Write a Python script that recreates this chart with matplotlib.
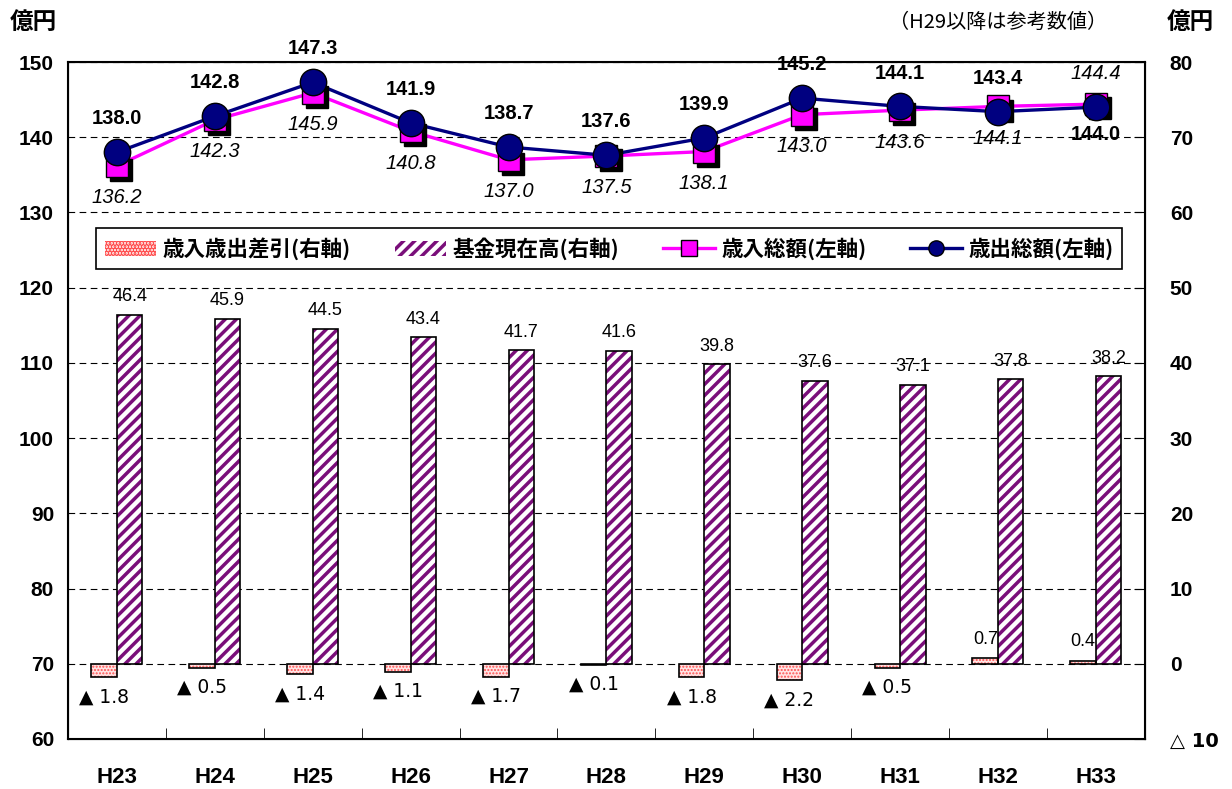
import matplotlib
matplotlib.use('Agg')
import matplotlib.pyplot as plt
from matplotlib.patches import Patch
from matplotlib.lines import Line2D
import matplotlib.transforms as mtransforms

plt.rcParams['font.family'] = ['Liberation Sans', 'Noto Sans CJK JP', 'DejaVu Sans']
plt.rcParams['hatch.linewidth'] = 2.5

# データ
years = ['H23', 'H24', 'H25', 'H26', 'H27', 'H28', 'H29', 'H30', 'H31', 'H32', 'H33']
revenue = [136.2, 142.3, 145.9, 140.8, 137.0, 137.5, 138.1, 143.0, 143.6, 144.1, 144.4]   # 歳入総額(左軸)
expense = [138.0, 142.8, 147.3, 141.9, 138.7, 137.6, 139.9, 145.2, 144.1, 143.4, 144.0]   # 歳出総額(左軸)
balance = [-1.8, -0.5, -1.4, -1.1, -1.7, -0.1, -1.8, -2.2, -0.5, 0.7, 0.4]                # 歳入歳出差引(右軸)
fund = [46.4, 45.9, 44.5, 43.4, 41.7, 41.6, 39.8, 37.6, 37.1, 37.8, 38.2]                 # 基金現在高(右軸)

left_ticks = [60, 70, 80, 90, 100, 110, 120, 130, 140, 150]
right_ticks = [-10, 0, 10, 20, 30, 40, 50, 60, 70, 80]
right_labels = ['△ 10', '0', '10', '20', '30', '40', '50', '60', '70', '80']

MAG = '#FF00FF'
NAVY = '#000080'
PURPLE = '#7A0F7A'
PINK_FACE = '#FFE4E4'
PINK_DOT = '#FF5050'
JP = ['Noto Sans CJK JP', 'DejaVu Sans']

x = list(range(len(years)))
w = 0.26

fig = plt.figure(figsize=(12.32, 7.89), dpi=100)
ax = fig.add_axes([0.0552, 0.0634, 0.874, 0.858])
ax2 = ax.twinx()
ax.set_zorder(ax2.get_zorder() + 1)
ax.patch.set_visible(False)

# --- 棒グラフ(右軸) ---
xb = [i - w / 2 for i in x]
xf = [i + w / 2 for i in x]
with plt.rc_context({'hatch.linewidth': 1.0}):
    pink = ax2.bar(xb, balance, w, color=PINK_FACE, edgecolor=PINK_DOT, hatch='.....', linewidth=0, zorder=2)
for p in pink:
    if hasattr(p, 'set_hatch_linewidth'):
        p.set_hatch_linewidth(1.0)
ax2.bar(xb, balance, w, fill=False, edgecolor='black', linewidth=1.2, zorder=3)
ax2.bar(xf, fund, w, color='white', edgecolor=PURPLE, hatch='///', linewidth=0, zorder=2)
ax2.bar(xf, fund, w, fill=False, edgecolor='black', linewidth=1.2, zorder=3)

for xi, v in zip(xb, balance):
    if v < 0:
        ax2.annotate(f'▲ {abs(v):.1f}', (xi, v), xytext=(0, -14), textcoords='offset points',
                     ha='center', va='center', fontsize=13.5, family='DejaVu Sans')
    else:
        ax2.annotate(f'{v:.1f}', (xi, v), xytext=(0, 14), textcoords='offset points',
                     ha='center', va='center', fontsize=13)
for xi, v in zip(xf, fund):
    ax2.annotate(f'{v:.1f}', (xi, v), xytext=(0, 13), textcoords='offset points',
                 ha='center', va='center', fontsize=13)

ax2.set_ylim(-10, 80)
ax2.set_yticks(right_ticks)
ax2.set_yticklabels(right_labels, fontsize=15, fontweight='bold')
ax2.get_yticklabels()[0].set_family('DejaVu Sans')
ax2.get_yticklabels()[0].set_fontsize(14)
ax2.tick_params(axis='y', direction='in', length=8, pad=18)
ax2.yaxis.grid(True, linestyle=(0, (6, 4)), color='black', linewidth=0.8)
ax2.set_axisbelow(True)

# --- 折れ線(左軸) ---
shadow = mtransforms.offset_copy(ax.transData, fig=fig, x=3, y=-3, units='points')
ax.plot(x, revenue, color=MAG, linewidth=2.4, zorder=3)
ax.plot(x, expense, color=NAVY, linewidth=2.4, zorder=3)
ax.plot(x, revenue, 's', color='black', markersize=16, transform=shadow, zorder=4)
ax.plot(x, revenue, 's', color=MAG, markeredgecolor='black', markeredgewidth=1, markersize=16, zorder=5)
ax.plot(x, expense, 'o', color=NAVY, markeredgecolor='black', markeredgewidth=1, markersize=19, zorder=6)

n = len(years)
for i in x:
    dy_e = -20 if i == n - 1 else 24
    ax.annotate(f'{expense[i]:.1f}', (i, expense[i]), xytext=(0, dy_e), textcoords='offset points',
                ha='center', va='center', fontsize=14.5, fontweight='bold', zorder=7)
    dy_r = 22 if i == n - 1 else -23
    ax.annotate(f'{revenue[i]:.1f}', (i, revenue[i]), xytext=(0, dy_r), textcoords='offset points',
                ha='center', va='center', fontsize=14.5, fontstyle='italic', zorder=7)

ax.set_xlim(-0.5, n - 0.5)
ax.set_ylim(60, 150)
ax.set_yticks(left_ticks)
ax.set_yticklabels([str(t) for t in left_ticks], fontsize=15, fontweight='bold')
ax.tick_params(axis='y', length=0, pad=10)
ax.set_xticks(x)
ax.set_xticklabels(years, fontsize=16, fontweight='bold')
ax.tick_params(axis='x', length=0, pad=20)
ax.set_xticks([i + 0.5 for i in x[:-1]], minor=True)
ax.tick_params(axis='x', which='minor', direction='in', length=8)
for sp in ax.spines.values():
    sp.set_linewidth(1.5)

# --- 凡例 ---
handles = [
    Patch(facecolor=PINK_FACE, edgecolor=PINK_DOT, hatch='.....', linewidth=0),
    Patch(facecolor='white', edgecolor=PURPLE, hatch='///', linewidth=0),
    Line2D([], [], color=MAG, linewidth=2.4, marker='s', markersize=11,
           markerfacecolor=MAG, markeredgecolor='black'),
    Line2D([], [], color=NAVY, linewidth=2.4, marker='o', markersize=11,
           markerfacecolor=NAVY, markeredgecolor='black'),
]
labels = ['歳入歳出差引(右軸)', '基金現在高(右軸)', '歳入総額(左軸)', '歳出総額(左軸)']
leg = ax.legend(handles, labels, loc='center', ncol=4, mode='expand',
                bbox_to_anchor=(0.026, 0.685, 0.953, 0.079), frameon=True, fancybox=False,
                framealpha=1, edgecolor='black', handlelength=2.4, handletextpad=0.3,
                borderaxespad=0, prop={'family': JP, 'weight': 'bold', 'size': 15.5})
leg.get_frame().set_linewidth(1.2)

# --- 単位・注記 ---
fig.text(0.008, 0.972, '億円', fontsize=17, fontweight='bold', family=JP, va='center')
fig.text(0.947, 0.972, '億円', fontsize=17, fontweight='bold', family=JP, va='center')
fig.text(0.899, 0.972, '（H29以降は参考数値）', fontsize=14.5, family=JP, ha='right', va='center')

fig.savefig('out.png', dpi=100)
